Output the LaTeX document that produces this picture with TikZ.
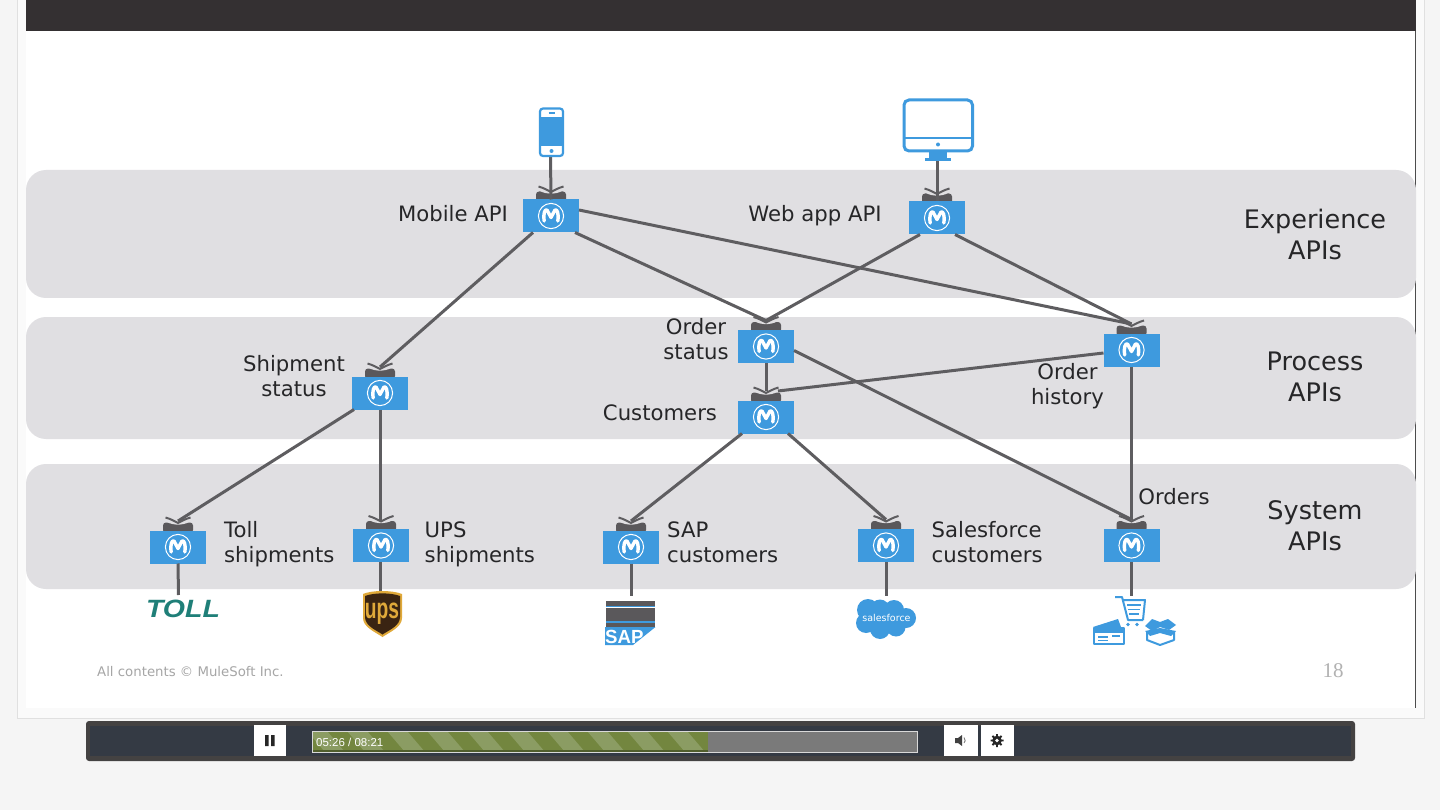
\documentclass[tikz,border=0pt]{standalone}
\usepackage{fontspec}
\setmainfont{DejaVu Sans}
\newfontfamily\lsans{Liberation Sans}
\newfontfamily\lserif{Liberation Serif}
\definecolor{blueb}{HTML}{3E9ADE}
\definecolor{band}{HTML}{E0DFE2}
\definecolor{wire}{HTML}{5E5D60}
\definecolor{sock}{HTML}{5A585B}
\definecolor{topbar}{HTML}{343032}
\definecolor{ink}{HTML}{262628}
\definecolor{bar}{HTML}{343A44}
\definecolor{barrim}{HTML}{444242}
\definecolor{gr}{HTML}{73863F}
\definecolor{grl}{HTML}{8B9C63}
\definecolor{tollc}{HTML}{1F7F78}
\definecolor{upsb}{HTML}{3A2412}
\definecolor{upsy}{HTML}{E0A93A}
\tikzset{
 x=1pt,y=-1pt,
 apibox/.style={fill=blueb,draw=none,minimum width=56pt,minimum height=33pt,inner sep=0pt,outer sep=0pt},
 wireline/.style={draw=wire,line width=3pt},
 lbl/.style={text=ink,font=\fontsize{21.2}{25}\selectfont,inner sep=0pt,align=center},
 lbll/.style={lbl,align=left},
 big/.style={text=ink,font=\fontsize{25.5}{31}\selectfont,inner sep=0pt,align=center},
 btn/.style={fill=white,draw=none,inner sep=0pt,outer sep=0pt},
 icon/.style={draw=blueb,line width=2pt,line join=round},
}
\newcommand{\apinode}[3]{%
 \fill[sock,rounded corners=3pt] (#2-15,#3-14) rectangle (#2+15,#3-24.5);
 \fill[band] (#2-11,#3-25) .. controls (#2-5,#3-21.5) and (#2+5,#3-21.5) .. (#2+11,#3-25) -- cycle;
 \draw[wire,line width=2pt] (#2-12.5,#3-29.5) .. controls (#2-7,#3-28) and (#2-3,#3-25.5) .. (#2,#3-24) .. controls (#2+3,#3-25.5) and (#2+7,#3-28) .. (#2+12.5,#3-29.5);
 \node[apibox] (#1) at (#2,#3) {};
 \coordinate (#1-in) at (#2,#3-26);
 \draw[white,line width=1pt] (#2,#3) circle (12.6);
 \draw[white,line width=3.4pt,line join=round,line cap=round] (#2-6.8,#3+5) .. controls (#2-8,#3-3) and (#2-6,#3-7) .. (#2-4,#3-6) -- (#2,#3+1.5) -- (#2+4,#3-6) .. controls (#2+6,#3-7) and (#2+8,#3-3) .. (#2+6.8,#3+5);
}
\begin{document}
\begin{tikzpicture}
\useasboundingbox (0,0) rectangle (1440,810);
\fill[white!96!black] (0,0) rectangle (1440,810);
% slide
\fill[white!98!black,draw=black!12,line width=.8pt] (17,-2) rectangle (1424,718);
\fill[white] (26,0) rectangle (1416,708);
\draw[black!70,line width=.8pt] (1415.5,31) -- (1415.5,708);
\fill[topbar] (26,0) rectangle (1416,31);
% bands
\fill[band,rounded corners=20pt] (26,170) rectangle (1416,298);
\fill[band,rounded corners=20pt] (26,317) rectangle (1416,439);
\fill[band,rounded corners=20pt] (26,464) rectangle (1416,589);
% free ends at device icons
\coordinate (phone) at (550.5,157);
\coordinate (desk) at (937,161);
\coordinate (tollend) at (178.5,595);
\coordinate (upsend) at (380.5,591);
\coordinate (sapend) at (631,596);
\coordinate (sfend) at (886,596);
\coordinate (ordend) at (1131.5,596);
% nodes
\apinode{mob}{551}{216}
\apinode{web}{937}{218}
\apinode{ost}{766}{346.5}
\apinode{ohi}{1131.5}{350}
\apinode{cus}{766}{417}
\apinode{shp}{380}{393}
\apinode{tol}{178}{547}
\apinode{ups}{381}{545.5}
\apinode{sap}{631}{547}
\apinode{sfc}{886}{545.5}
\apinode{ord}{1131.5}{545.5}
% connectors
\draw[wireline] (phone) -- (mob-in |- mob.north);
\draw[wireline] (desk) -- (web-in |- web.north);
\draw[wireline] ([xshift=-18pt]mob.south) -- (shp-in);
\draw[wireline] ([xshift=24pt]mob.south) -- (ost-in);
\draw[wireline] ([yshift=6pt]mob.east) -- (ohi-in);
\draw[wireline] ([xshift=-17pt]web.south) -- (ost-in);
\draw[wireline] ([xshift=18pt]web.south) -- (ohi-in);
\draw[wireline] (ost.south) -- (cus-in);
\draw[wireline] ([yshift=-4pt]ost.east) -- (ord-in);
\draw[wireline] ([yshift=-3pt]ohi.west) -- ([xshift=12pt]cus-in);
\draw[wireline] (ohi.south) -- (ord-in);
\draw[wireline] ([xshift=-26pt]shp.south) -- (tol-in);
\draw[wireline] (shp.south) -- (shp.south |- ups-in);
\draw[wireline] ([xshift=-24pt]cus.south) -- (sap-in);
\draw[wireline] ([xshift=22pt]cus.south) -- (sfc-in);
\draw[wireline] (tol.south) -- (tollend);
\draw[wireline] (ups.south -| upsend) -- (upsend);
\draw[wireline] (sap.south) -- (sapend);
\draw[wireline] (sfc.south) -- (sfend);
\draw[wireline] (ord.south) -- (ordend);
% labels
\node[lbl,anchor=base] at (453,222) {Mobile API};
\node[lbl,anchor=base] at (815,222) {Web app API};
\node[lbl] (l1) at (696,339.5) {Order\\status};
\node[lbl] (l2) at (1067.5,386) {Order\\history};
\node[lbl,anchor=base] at (660,420) {Customers};
\node[lbl] at (294,376) {Shipment\\status};
\node[lbll,anchor=west] at (224,544) {Toll\\shipments};
\node[lbll,anchor=west] at (424.5,544.5) {UPS\\shipments};
\node[lbll,anchor=west] at (667,542) {SAP\\customers};
\node[lbll,anchor=west] at (931.5,542) {Salesforce\\customers};
\node[lbl,anchor=base] at (1174,504) {Orders};
\node[big] at (1315,234) {Experience\\APIs};
\node[big] at (1315,377) {Process\\APIs};
\node[big] at (1315,526) {System\\APIs};
\node[text=black!35,font=\fontsize{13.3}{16}\selectfont,inner sep=0pt,anchor=base west] at (97,676) {All contents © MuleSoft Inc.};
\node[text=black!30,font=\lserif\fontsize{21}{24}\selectfont,inner sep=0pt] at (1333,671) {18};
% phone
\fill[white] (540,108.5) rectangle (563,156);
\fill[blueb] (540,117.5) rectangle (563,146);
\draw[blueb,line width=2.2pt,rounded corners=3pt] (540,108.5) rectangle (563,156);
\draw[blueb,line width=1.2pt] (548.5,113) -- (554.5,113);
\fill[blueb] (551.5,151) circle (2);
% desktop
\draw[blueb,line width=3pt,rounded corners=5pt] (904,100) rectangle (972.5,151);
\draw[blueb,line width=2.4pt] (904,138) -- (972.5,138);
\fill[blueb] (938,144.5) circle (2);
\fill[blueb] (929,151) rectangle (947,158);
\fill[blueb] (925,158) rectangle (951,161);
% Toll
\node[text=tollc,font=\lsans\bfseries\itshape\fontsize{25}{25}\selectfont,inner sep=0pt,xscale=1.14] at (183,609) {TOLL};
% UPS
\fill[upsy] (363,594) .. controls (372,590) and (392,590) .. (402,594) -- (402,618) .. controls (402,627) and (390,632) .. (382.5,637) .. controls (375,632) and (363,627) .. (363,618) -- cycle;
\fill[upsb] (365,596) .. controls (374,592.5) and (391,592.5) .. (400,596) -- (400,617) .. controls (400,626) and (389,630) .. (382.5,634.5) .. controls (376,630) and (365,626) .. (365,617) -- cycle;
\node[text=upsy,font=\lsans\bfseries\fontsize{24}{24}\selectfont,inner sep=0pt,xscale=.8,yscale=1.2] at (382,614) {ups};
% SAP
\fill[sock] (606,601) rectangle (655,605.5);
\fill[blueb] (606,605.5) rectangle (655,607);
\fill[sock] (606,607.5) rectangle (655,620.5);
\fill[blueb] (606,620.5) rectangle (655,622.5);
\fill[sock] (606,622.5) rectangle (655,627);
\fill[blueb] (605,627) -- (655.5,627) -- (633,645) -- (605,645) -- cycle;
\node[text=white,font=\lsans\bfseries\fontsize{19}{19}\selectfont,inner sep=0pt,anchor=base west,xscale=.98] at (605,643.5) {SAP};
% Salesforce
\fill[blueb] (886,618) circle (14) (868,610) circle (11) (880,609) circle (9.5) (894,610) circle (10) (906,618) circle (10) (896,627) circle (9.5) (880,629) circle (10) (866,623) circle (10);
\node[text=white,font=\fontsize{9.5}{10}\selectfont,inner sep=0pt] at (886.5,618) {salesforce};
% commerce icons
\draw[icon,line width=2pt] (1115,597) -- (1122,597) -- (1128,620) -- (1143,620) (1122,600) -- (1145,600) -- (1143,620);
\draw[icon,line width=1.2pt] (1127,605) -- (1141,605) (1128,609.5) -- (1140,609.5) (1129,614) -- (1139,614);
\fill[blueb] (1128,624.5) circle (1.8) (1137,624.5) circle (1.8);
\fill[white] (1093,625) -- (1122,619) -- (1124,626) -- (1124,644) -- (1094,644) -- cycle;
\draw[icon,line width=2pt] (1093.5,628) rectangle (1124,644);
\fill[blueb] (1093,627) -- (1118,619) -- (1121,627) -- cycle;
\fill[blueb] (1093.5,627) rectangle (1124,633);
\draw[icon,line width=1.2pt] (1098,637) -- (1108,637) (1098,640.5) -- (1108,640.5) (1112,636) -- (1120,636);
\fill[blueb] (1145,626) -- (1152,619) -- (1160,622) -- (1168,619) -- (1176,625) -- (1169,630) -- (1160,627) -- (1152,631) -- cycle;
\draw[icon,line width=2pt] (1147,631) -- (1147,640) -- (1160,645) -- (1174,640) -- (1174,631);
\fill[blueb] (1160,628) -- (1176,631) -- (1171,636) -- (1160,633) -- (1150,636) -- (1145,631) -- cycle;
% control bar
\fill[barrim,rounded corners=3pt] (86,721) rectangle (1355,761);
\fill[bar] (90,725.5) rectangle (1351,756);
\node[btn,minimum width=32pt,minimum height=31pt] (pause) at (270,740.5) {};
\fill[black!85] (265,735) rectangle (268.5,746) (271,735) rectangle (274.5,746);
\fill[black!52] (313,731.5) rectangle (917,751.5);
\begin{scope}
\clip (313,731.5) rectangle (708,751.5);
\fill[gr] (313,731.5) rectangle (708,751.5);
\foreach \k in {0,...,10} {\fill[grl] (307+\k*40,731) -- (327+\k*40,731) -- (345+\k*40,752) -- (325+\k*40,752) -- cycle;}
\fill[gr!70!black] (313,750) rectangle (708,751.5);
\end{scope}
\draw[white!85!black,line width=1pt] (312.5,731) rectangle (917.5,752);
\node[text=white,font=\lsans\fontsize{11.5}{12}\selectfont,inner sep=0pt,anchor=west] at (316,742) {05:26 / 08:21};
\node[btn,minimum width=34pt,minimum height=31pt] (vol) at (961,740.5) {};
\node[btn,minimum width=33pt,minimum height=31pt] (gear) at (997.5,740.5) {};
\fill[black!75] (955,738) -- (958,738) -- (962,735) -- (962,746) -- (958,743) -- (955,743) -- cycle;
\draw[black!55,line width=.8pt] (964,737.5) arc (-50:50:3.5);
\draw[black!85,line width=1.8pt] (997,734) -- (997,747) (990.5,740.5) -- (1003.5,740.5) (992.4,735.9) -- (1001.6,745.1) (992.4,745.1) -- (1001.6,735.9);
\fill[black!85] (997,740.5) circle (4.8);
\fill[white] (997,740.5) circle (1.8);
\end{tikzpicture}
\end{document}
